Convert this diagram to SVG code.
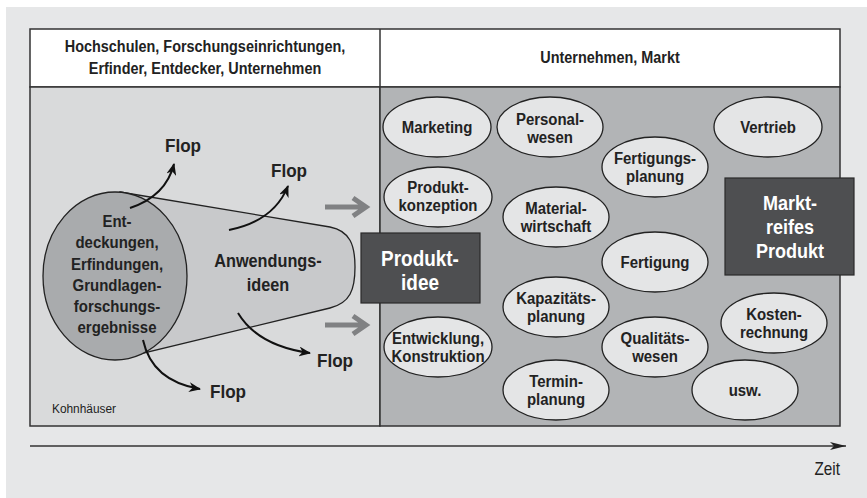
<svg xmlns="http://www.w3.org/2000/svg" width="867" height="498" viewBox="0 0 867 498">
<defs>
<style>
.t{font-family:"Liberation Sans",Arial,sans-serif;fill:#222;text-anchor:middle}
.b{font-weight:bold}
.el{fill:#e4e5e6;stroke:#222;stroke-width:1.3}
.et{font-family:"Liberation Sans",Arial,sans-serif;font-weight:bold;font-size:17px;fill:#222;text-anchor:middle}
.flop{font-family:"Liberation Sans",Arial,sans-serif;font-weight:bold;font-size:19px;fill:#222;text-anchor:middle}
.wt{font-family:"Liberation Sans",Arial,sans-serif;font-weight:bold;fill:#fff;text-anchor:middle}
.dark{fill:#4e4f51;stroke:#2a2a2a;stroke-width:1.2}
.ca{fill:none;stroke:#111;stroke-width:2}
.ga{fill:none;stroke:#808183;stroke-width:5}
</style>
<marker id="ah" viewBox="0 0 12 10" refX="11" refY="5" markerWidth="12" markerHeight="10" markerUnits="userSpaceOnUse" orient="auto">
<path d="M0,0 L12,5 L0,10 L3.5,5 Z" fill="#111"/>
</marker>
<marker id="ta" viewBox="0 0 16 8" refX="16" refY="4" markerWidth="16" markerHeight="8" markerUnits="userSpaceOnUse" orient="auto">
<path d="M0,0 L16,4 L0,8 L4,4 Z" fill="#222"/>
</marker>
</defs>
<rect x="6" y="7" width="861" height="491" fill="#e6e7e8"/>
<g id="frame">
<rect x="30" y="29" width="810" height="58" fill="#fff" stroke="#333" stroke-width="1.5"/>
<rect x="30" y="87" width="350" height="339" fill="#d9dadb" stroke="#333" stroke-width="1.5"/>
<rect x="380" y="87" width="460" height="339" fill="#b2b4b6" stroke="#333" stroke-width="1.5"/>
<line x1="380" y1="29" x2="380" y2="87" stroke="#333" stroke-width="1.5"/>
<g transform="translate(205,0) scale(0.88,1)">
<text class="t b" y="52" font-size="16.4">Hochschulen, Forschungseinrichtungen,</text>
<text class="t b" y="74" font-size="16.4">Erfinder, Entdecker, Unternehmen</text>
</g>
<g transform="translate(610,0) scale(0.88,1)"><text class="t b" y="63" font-size="16.4">Unternehmen, Markt</text></g>
<g transform="translate(52,0) scale(0.88,1)"><text class="t" y="413" font-size="13.5" style="text-anchor:start">Kohnhäuser</text></g>
</g>
<g id="anwendungsideen">
<path d="M120,192 L330,227 C350,231 355,245 355,267 C355,290 350,303 330,308 L140,354 Z" fill="#c8c9cb" stroke="#222" stroke-width="1.3"/>
<g transform="translate(268,0) scale(0.88,1)">
<text class="t b" y="267" font-size="18.5">Anwendungs-</text>
<text class="t b" y="291" font-size="18.5">ideen</text>
</g>
</g>
<g id="entdeckungen">
<ellipse cx="115" cy="276" rx="72" ry="84" fill="#a9abad" stroke="#222" stroke-width="1.3"/>
<g transform="translate(117,0) scale(0.88,1)">
<text class="et" y="227">Ent-</text>
<text class="et" y="248">deckungen,</text>
<text class="et" y="270">Erfindungen,</text>
<text class="et" y="291">Grundlagen-</text>
<text class="et" y="312">forschungs-</text>
<text class="et" y="333">ergebnisse</text>
</g>
</g>
<g id="connectors">
<path class="ca" d="M130,208 Q166,196 174,164" marker-end="url(#ah)"/>
<path class="ca" d="M229,230 Q274,221 288,186" marker-end="url(#ah)"/>
<path class="ca" d="M238,313 Q258,346 310,353" marker-end="url(#ah)"/>
<path class="ca" d="M143,340 Q152,381 200,389" marker-end="url(#ah)"/>
<path class="ga" d="M325,207 H365 M353,198 L366,207 L353,216"/>
<path class="ga" d="M325,325 H365 M353,316 L366,325 L353,334"/>
<line x1="30" y1="446" x2="846" y2="446" stroke="#333" stroke-width="1.3" marker-end="url(#ta)"/>
</g>
<g id="flops">
<g transform="translate(183,152) scale(0.9,1)"><text class="flop">Flop</text></g>
<g transform="translate(289,177) scale(0.9,1)"><text class="flop">Flop</text></g>
<g transform="translate(335,367) scale(0.9,1)"><text class="flop">Flop</text></g>
<g transform="translate(228,398) scale(0.9,1)"><text class="flop">Flop</text></g>
</g>
<g id="produktidee">
<rect class="dark" x="361" y="233" width="119" height="70"/>
<g transform="translate(420,0) scale(0.88,1)">
<text class="wt" y="266" font-size="21.5">Produkt-</text>
<text class="wt" y="290" font-size="21.5">idee</text>
</g>
</g>
<g id="marketing"><ellipse class="el" cx="437" cy="127" rx="54" ry="30"/><g transform="translate(437,127) scale(0.88,1)"><text class="et" y="6">Marketing</text></g></g>
<g id="personalwesen"><ellipse class="el" cx="550" cy="127" rx="53" ry="30"/><g transform="translate(550,127) scale(0.88,1)"><text class="et" y="-2">Personal-</text><text class="et" y="16">wesen</text></g></g>
<g id="vertrieb"><ellipse class="el" cx="768" cy="127" rx="54" ry="30"/><g transform="translate(768,127) scale(0.88,1)"><text class="et" y="6">Vertrieb</text></g></g>
<g id="fertigungsplanung"><ellipse class="el" cx="655" cy="167" rx="53" ry="30"/><g transform="translate(655,167) scale(0.88,1)"><text class="et" y="-3">Fertigungs-</text><text class="et" y="15">planung</text></g></g>
<g id="produktkonzeption"><ellipse class="el" cx="438" cy="197" rx="54" ry="30"/><g transform="translate(438,197) scale(0.88,1)"><text class="et" y="-4">Produkt-</text><text class="et" y="14">konzeption</text></g></g>
<g id="materialwirtschaft"><ellipse class="el" cx="556" cy="217" rx="53" ry="30"/><g transform="translate(556,217) scale(0.88,1)"><text class="et" y="-3">Material-</text><text class="et" y="15">wirtschaft</text></g></g>
<g id="fertigung"><ellipse class="el" cx="655" cy="262" rx="53" ry="30"/><g transform="translate(655,262) scale(0.88,1)"><text class="et" y="6">Fertigung</text></g></g>
<g id="kapazitaetsplanung"><ellipse class="el" cx="556" cy="307" rx="53" ry="30"/><g transform="translate(556,307) scale(0.88,1)"><text class="et" y="-3">Kapazitäts-</text><text class="et" y="15">planung</text></g></g>
<g id="entwicklung"><ellipse class="el" cx="438" cy="347" rx="54" ry="30"/><g transform="translate(438,347) scale(0.88,1)"><text class="et" y="-3">Entwicklung,</text><text class="et" y="15">Konstruktion</text></g></g>
<g id="qualitaetswesen"><ellipse class="el" cx="655" cy="347" rx="53" ry="30"/><g transform="translate(655,347) scale(0.88,1)"><text class="et" y="-3">Qualitäts-</text><text class="et" y="15">wesen</text></g></g>
<g id="terminplanung"><ellipse class="el" cx="556" cy="390" rx="53" ry="30"/><g transform="translate(556,390) scale(0.88,1)"><text class="et" y="-3">Termin-</text><text class="et" y="15">planung</text></g></g>
<g id="kostenrechnung"><ellipse class="el" cx="774" cy="323" rx="53" ry="30"/><g transform="translate(774,323) scale(0.88,1)"><text class="et" y="-3">Kosten-</text><text class="et" y="15">rechnung</text></g></g>
<g id="usw"><ellipse class="el" cx="745" cy="390" rx="53" ry="30"/><g transform="translate(745,390) scale(0.88,1)"><text class="et" y="6">usw.</text></g></g>
<g id="marktreifes-produkt">
<rect class="dark" x="725" y="178" width="129" height="97"/>
<g transform="translate(790,0) scale(0.88,1)">
<text class="wt" y="210" font-size="20.5">Markt-</text>
<text class="wt" y="234" font-size="20.5">reifes</text>
<text class="wt" y="258" font-size="20.5">Produkt</text>
</g>
</g>
<g id="zeit"><g transform="translate(840,475) scale(0.85,1)"><text class="t" font-size="18" style="text-anchor:end">Zeit</text></g></g>
</svg>
